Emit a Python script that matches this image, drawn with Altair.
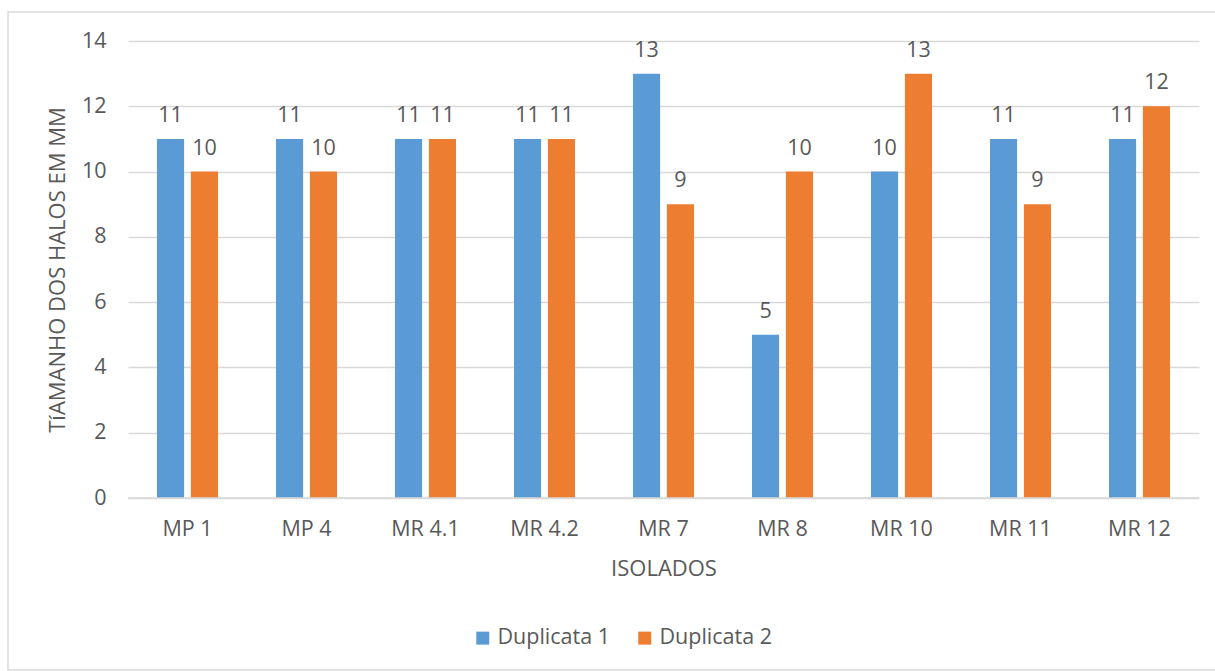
import altair as alt
import pandas as pd

isolados = ["MP 1", "MP 4", "MR 4.1", "MR 4.2", "MR 7", "MR 8", "MR 10", "MR 11", "MR 12"]
duplicata_1 = [11, 11, 11, 11, 13, 5, 10, 11, 11]
duplicata_2 = [10, 10, 11, 11, 9, 10, 13, 9, 12]
series = ["Duplicata 1", "Duplicata 2"]
colors = ["#5B9BD5", "#ED7D31"]

rows = []
for i, iso in enumerate(isolados):
    rows.append({"isolado": iso, "serie": series[0], "valor": duplicata_1[i]})
    rows.append({"isolado": iso, "serie": series[1], "valor": duplicata_2[i]})
df = pd.DataFrame(rows)

FONT = "Open Sans"
GRAY = "#595959"
LABEL_SIZE = 21.5
TITLE_SIZE = 22
W, H = 1071, 457

x_enc = alt.X("isolado:N", sort=isolados,
              scale=alt.Scale(paddingInner=0.487, paddingOuter=0.2435),
              axis=alt.Axis(title="ISOLADOS", labelAngle=0, labelPadding=20,
                            ticks=False, domain=False, titlePadding=19))
xoff = alt.XOffset("serie:N", sort=series,
                   scale=alt.Scale(paddingInner=0.2, paddingOuter=0))

base = alt.Chart(df)

bars = base.mark_bar().encode(
    x=x_enc,
    xOffset=xoff,
    y=alt.Y("valor:Q", scale=alt.Scale(domain=[0, 14]),
            axis=alt.Axis(title="TíAMANHO DOS HALOS EM MM", values=[0, 2, 4, 6, 8, 10, 12, 14],
                          ticks=False, domain=False, labelPadding=22, titlePadding=12,
                          gridColor="#D9D9D9", gridWidth=1.3)),
    color=alt.Color("serie:N", sort=series,
                    scale=alt.Scale(domain=series, range=colors),
                    legend=alt.Legend(title=None, orient="none", legendX=344, legendY=586,
                                      direction="horizontal", symbolType="square",
                                      symbolSize=169, symbolStrokeWidth=0,
                                      labelFontSize=LABEL_SIZE, labelFont=FONT, labelColor=GRAY,
                                      labelOffset=4, columnPadding=23)),
)

labels = base.mark_text(baseline="alphabetic", dy=-17, fontSize=LABEL_SIZE, font=FONT,
                        color=GRAY).encode(
    x=alt.X("isolado:N", sort=isolados),
    xOffset=xoff,
    y="valor:Q",
    text="valor:Q",
)

# zero baseline of the value axis
zero = alt.Chart(pd.DataFrame({"v": [0]})).mark_rule(color="#D9D9D9", strokeWidth=1.5).encode(
    y="v:Q"
)

# outer frame of the chart area
frame = alt.Chart(pd.DataFrame({"v": [0]})).mark_rect(
    fill=None, stroke="#D9D9D9", strokeWidth=1.5
).encode(
    x=alt.value(-120), x2=alt.value(W + 86), y=alt.value(-29), y2=alt.value(H + 172)
)

chart = alt.layer(frame, bars, zero, labels).properties(
    width=W, height=H,
    autosize=alt.AutoSizeParams(type="none"),
    padding={"left": 128, "top": 41, "right": 16, "bottom": 173},
    background="white",
).configure_view(stroke=None).configure_axis(
    labelFont=FONT, labelFontSize=LABEL_SIZE, labelColor=GRAY,
    titleFont=FONT, titleFontSize=TITLE_SIZE, titleColor=GRAY, titleFontWeight="normal",
)

chart.save("out.html", embed_options={"renderer": "svg", "actions": False})
